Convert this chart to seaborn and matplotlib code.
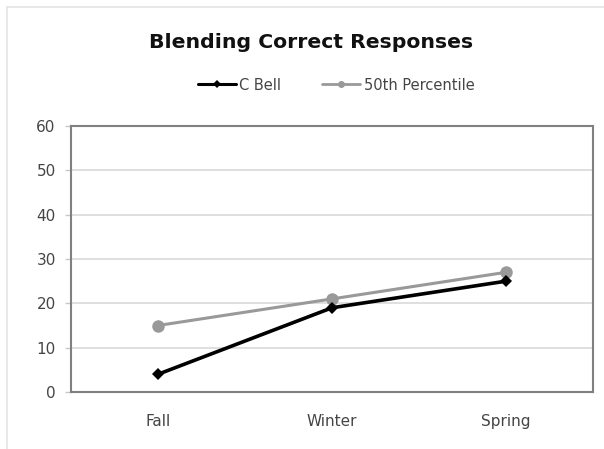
import matplotlib
matplotlib.use("Agg")
import matplotlib.pyplot as plt
import matplotlib.patches as mpatches
from matplotlib.lines import Line2D
import seaborn as sns

terms = ["Fall", "Winter", "Spring"]
c_bell = [4, 19, 25]
percentile_50 = [15, 21, 27]
y_ticks = [0, 10, 20, 30, 40, 50, 60]

sns.set_style("white")
plt.rcParams["font.family"] = ["DejaVu Sans"]

fig = plt.figure(figsize=(6.04, 4.49), dpi=100)
ax = fig.add_axes([71 / 604, 1 - 392 / 449, 522 / 604, 266 / 449])

# outer chart frame
fig.patches.append(mpatches.Rectangle((7 / 604, -0.1), 1.2, 1 - 7 / 449 + 0.1,
                                      transform=fig.transFigure, fill=False,
                                      edgecolor="#e4e4e4", linewidth=1.2))

x = [0, 1, 2]
sns.lineplot(x=x, y=percentile_50, ax=ax, color="#999999", linewidth=2.2,
             marker="o", markersize=9, markeredgewidth=0, zorder=3)
sns.lineplot(x=x, y=c_bell, ax=ax, color="#000000", linewidth=2.6,
             marker="D", markersize=6.5, markeredgewidth=0, zorder=4)

ax.set_xlim(-0.5, 2.5)
ax.set_ylim(0, 60)
ax.set_yticks(y_ticks)
ax.set_yticklabels([str(v) for v in y_ticks])
ax.set_xticks(x)
ax.set_xticklabels(terms)
ax.set_xticks([0.5, 1.5], minor=True)
ax.tick_params(axis="x", which="major", length=0, pad=16, labelsize=11,
               labelcolor="#454545")
ax.tick_params(axis="x", which="minor", length=4, width=1, color="#808080",
               direction="out")
ax.tick_params(axis="y", length=4, width=1, color="#c8c8c8", pad=7,
               labelsize=11, labelcolor="#454545", left=True)
ax.yaxis.grid(True, color="#d9d9d9", linewidth=1.2)
ax.set_axisbelow(True)
for side in ["left", "right", "top", "bottom"]:
    ax.spines[side].set_visible(True)
    ax.spines[side].set_color("#808080")
    ax.spines[side].set_linewidth(1.5)
ax.set_xlabel("")
ax.set_ylabel("")

legend_handles = [
    Line2D([], [], color="#000000", linewidth=2.2, marker="D", markersize=4,
           markeredgewidth=0),
    Line2D([], [], color="#999999", linewidth=2.0, marker="o", markersize=5,
           markeredgewidth=0),
]
fig.legend(legend_handles, ["C Bell", "50th Percentile"],
           loc="center", bbox_to_anchor=(336 / 604, 1 - 85 / 449), ncol=2,
           frameon=False, fontsize=10.5, handlelength=2.6, columnspacing=2.8,
           handletextpad=0.25, labelcolor="#454545")

fig.text(311 / 604, 1 - 43 / 449, "Blending Correct Responses", ha="center",
         va="center", fontsize=14.7, fontweight="bold", color="#111111")

fig.savefig("out.png", dpi=100)
